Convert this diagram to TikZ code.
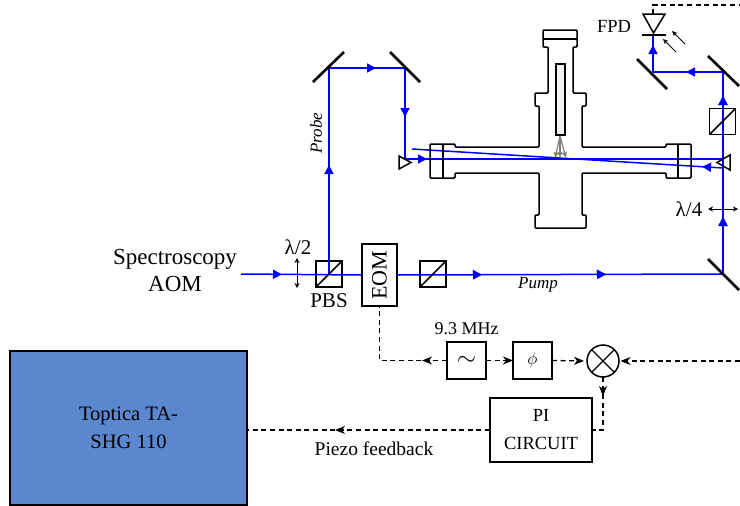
\documentclass[tikz,border=0pt]{standalone}
\usepackage{fontspec}
\setmainfont{Liberation Serif}
\usetikzlibrary{arrows.meta,decorations.markings}
\definecolor{beamblue}{RGB}{0,0,255}
\definecolor{laserbox}{RGB}{91,135,207}
\tikzset{
  beam/.style={draw=beamblue,line width=1.5pt},
  btip/.style={decoration={markings,mark=at position #1pt with {\arrow{Triangle[length=9pt,width=9pt,fill=beamblue,color=beamblue]}}},postaction=decorate},
  mirror/.style={draw=black,line width=2.6pt},
  wall/.style={draw=black,line width=1.5pt,rounded corners=1pt},
  cube/.style={draw=black,line width=1.5pt,inner sep=0pt,outer sep=0pt,minimum width=26pt,minimum height=26pt},
  ebox/.style={draw=black,fill=white,line width=1.5pt,inner sep=0pt,outer sep=0pt,align=center},
  sig/.style={draw=black,line width=1.3pt,dash pattern=on 5pt off 3.6pt},
  dtip/.style={decoration={markings,mark=at position #1pt with {\arrow{Stealth[length=10pt,width=8pt,inset=3pt]}}},postaction=decorate},
  endtip/.style={-{Stealth[length=10pt,width=8pt,inset=3pt]}},
  dbl/.style={draw=black,line width=0.9pt,{Stealth[length=5pt,width=5pt,inset=1.5pt]}-{Stealth[length=5pt,width=5pt,inset=1.5pt]}},
  tiny/.style={draw=black,line width=0.9pt,-{Stealth[length=5pt,width=4.5pt,inset=1pt]}},
  lab/.style={inner sep=0pt,align=center}
}
\begin{document}
\begin{tikzpicture}[x=1pt,y=-1pt]
\useasboundingbox (0,0) rectangle (740,506);
% free points of the optical path
\coordinate (src) at (241,274);
\coordinate (mp1) at (329,68);
\coordinate (mp2) at (405,68);
\coordinate (ret) at (405,159);
\coordinate (mr) at (723,159);
\coordinate (mr2) at (723,168);
\coordinate (ml2) at (412,149);
\coordinate (mpump) at (723,274);
\coordinate (mt1) at (723,72);
\coordinate (mt2) at (653,72);
\coordinate (sigin) at (740,361);
\coordinate (fpdout) at (740,5);
\coordinate (fpdtop) at (653,14);
% components placed first so names exist
\node[cube] (pbs) at (329,274) {};
\node[cube] (cu2) at (433,274) {};
\node[cube] (cu3) at (722.5,121.5) {};
\node[ebox,minimum width=35pt,minimum height=62pt] (eom) at (379.5,275) {\fontsize{22}{24}\selectfont\rotatebox{90}{EOM}};
\node[ebox,minimum width=39pt,minimum height=37pt] (osc) at (466.5,360.5) {\fontsize{34}{34}\selectfont$\sim$};
\node[ebox,minimum width=39pt,minimum height=37pt] (phi) at (532.5,360.5) {\fontsize{18}{20}\selectfont$\phi$};
\node[ebox,minimum width=102pt,minimum height=64pt,font=\fontsize{18.5}{28}\selectfont] (pi) at (541,430) {PI\\CIRCUIT};
\node[ebox,draw=black,fill=laserbox,minimum width=237pt,minimum height=154pt,font=\fontsize{20.5}{28}\selectfont] (laser) at (128.5,428) {Toptica TA-\\SHG 110};
\node[draw=black,line width=1.5pt,circle,inner sep=0pt,outer sep=0pt,minimum size=32pt,fill=white] (mix) at (603,361) {};
\coordinate (fpdbar) at (653,35);
% beams
\draw[beam,btip=41] (src) -- (eom.west);
\draw[beam,btip=109] (pbs.center) -- (pbs.center |- mp1) -- (mp1);
\draw[beam,btip=47] (mp1) -- (mp2);
\draw[beam,btip=49] (mp2) -- (ret);
\draw[beam,btip=22] (ret) -- (mr);
\draw[beam,btip=21] (mr2) -- (ml2);
\draw[beam,btip=85,btip=209] (eom.east) -- (mpump);
\draw[beam,btip=57,btip=178] (mpump) -- (mt1);
\draw[beam,btip=37] (mt1) -- (mt2);
\draw[beam,btip=27] (mt2) -- (fpdbar);
% cube diagonals
\draw[draw=black,line width=1.5pt] (pbs.south west) -- (pbs.north east);
\draw[draw=black,line width=1.5pt] (cu2.south west) -- (cu2.north east);
\draw[draw=black,line width=1.5pt] (cu3.south west) -- (cu3.north east);
% mirrors
\draw[mirror] (313,82) -- (344,52);
\draw[mirror] (390,52) -- (420,82);
\draw[mirror] (637,59) -- (667,89);
\draw[mirror] (708,56) -- (739,86);
\draw[mirror] (708,259) -- (739,290) ;
\path (0,0);
% vacuum chamber
\draw[wall] (430,147) -- (430,144) -- (455,144) -- (455,147) -- (539,147) -- (539,106) -- (535,106) -- (535,93) -- (548,93) -- (548,47) -- (543,47) -- (543,30) -- (577,30) -- (577,47) -- (573,47) -- (573,93) -- (586,93) -- (586,106) -- (582,106) -- (582,147) -- (666,147) -- (666,144) -- (691,144) -- (691,178) -- (666,178) -- (666,173) -- (582,173) -- (582,215) -- (586,215) -- (586,228) -- (535,228) -- (535,215) -- (539,215) -- (539,173) -- (455,173) -- (455,178) -- (430,178) -- cycle;
\draw[wall] (443,144) -- (443,178);
\draw[wall] (678,144) -- (678,178);
\draw[wall] (543,39) -- (577,39);
\draw[draw=black,fill=gray!10,line width=1.5pt] (556,64) rectangle (565,135);
% gray fan of atoms
\draw[draw=gray,line width=1.2pt,-{Stealth[length=6pt,width=5pt,inset=1pt]}] (560,136) -- (555,158);
\draw[draw=gray,line width=1.2pt,-{Stealth[length=6pt,width=5pt,inset=1pt]}] (560,136) -- (560,158);
\draw[draw=gray,line width=1.2pt,-{Stealth[length=6pt,width=5pt,inset=1pt]}] (560,136) -- (566,158);
% small retro triangles
\draw[draw=black,line width=1.5pt] (399,156) -- (411,162.5) -- (399,169) -- cycle;
\draw[draw=black,line width=1.5pt] (730,155) -- (717,162.5) -- (730,170) -- cycle;
% photodiode
\draw[draw=black,line width=1.5pt] (643,14) -- (665,14) -- (653.5,33) -- cycle;
\draw[draw=black,line width=1.6pt] (642,35) -- (666,35);
\draw[tiny] (676,52) -- (663,39);
\draw[tiny] (685,44) -- (672,31);
% signal lines
\draw[sig] (fpdtop) -- (653,5) -- (fpdout);
\draw[sig,dtip=25] (osc.west) -- (eom.south |- osc.west) -- (eom.south);
\draw[sig,endtip] (osc.east) -- (phi.west);
\draw[sig,endtip,shorten >=3pt] (phi.east) -- (mix.west);
\draw[sig,endtip,shorten >=1.5pt] (sigin) -- (mix.east);
\draw[sig,dtip=19] (mix.south) -- (mix.south |- pi.east) -- (pi.east);
\draw[sig,dtip=155] (pi.west) -- (laser.east |- pi.west);
% mixer cross
\draw[draw=black,line width=1.2pt] (mix.45) -- (mix.225);
\draw[draw=black,line width=1.2pt] (mix.135) -- (mix.315);
% waveplate arrows
\draw[dbl] (297,258) -- (297,288);
\draw[dbl] (708,209) -- (738,209);
% labels
\node[lab,font=\fontsize{23}{27}\selectfont] (spec) at (175,270.5) {Spectroscopy\\AOM};
\node[lab,font=\fontsize{21}{24}\selectfont] (hwp) at (298,247) {λ/2};
\node[lab,font=\fontsize{21}{24}\selectfont] (qwp) at (689,209) {λ/4};
\node[lab,font=\fontsize{21}{24}\selectfont] (pbsl) at (329,301) {PBS};
\node[lab,font=\itshape\fontsize{17}{20}\selectfont] (pump) at (538,285) {Pump};
\node[lab,font=\itshape\fontsize{17}{20}\selectfont,rotate=90] (probe) at (316,133) {Probe};
\node[lab,font=\fontsize{18.5}{20}\selectfont] (fpd) at (614,26) {FPD};
\node[lab,font=\fontsize{18}{20}\selectfont] (fr) at (466.5,329) {9.3 MHz};
\node[lab,font=\fontsize{19.5}{20}\selectfont] (fb) at (374,449) {Piezo feedback};
\end{tikzpicture}
\end{document}
